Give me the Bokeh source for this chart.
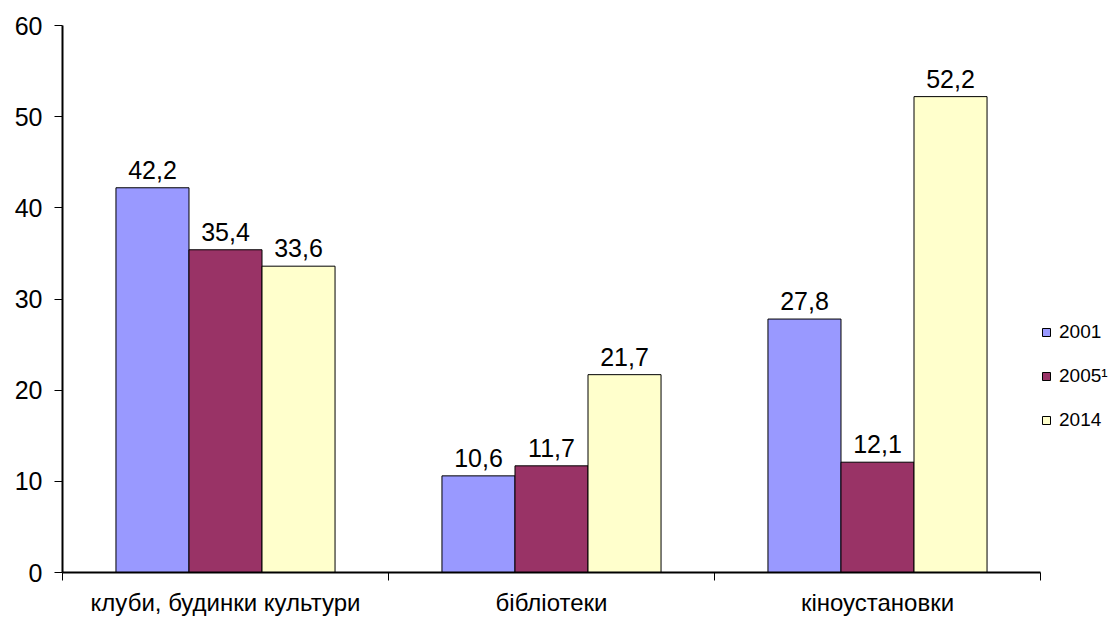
from bokeh.plotting import figure
from bokeh.models import Range1d, FixedTicker, Legend, LegendItem, ColumnDataSource
from bokeh.embed import file_html
from bokeh.resources import INLINE

categories = ["клуби, будинки культури", "бібліотеки", "кіноустановки"]
series_names = ["2001", "2005¹", "2014"]
v2001 = [42.2, 10.6, 27.8]
v2005 = [35.4, 11.7, 12.1]
v2014 = [33.6, 21.7, 52.2]
colors = ["#9999FF", "#993366", "#FFFFCC"]

FONT = "Liberation Sans"

W, H = 1116, 618
LEFT, TOP, BOTTOM = 62, 25, 45
axis_px = 978                      # width of the category area
right_px = W - LEFT - axis_px      # extra room for the legend inside the frame
x_end = 3 + right_px / (axis_px / 3)

p = figure(width=W, height=H, output_backend="svg", toolbar_location=None,
           x_range=Range1d(0, x_end), y_range=Range1d(0, 60),
           min_border_left=LEFT, min_border_right=0, min_border_top=TOP, min_border_bottom=BOTTOM)
p.outline_line_color = None
p.xgrid.visible = False
p.ygrid.visible = False

bw = 0.224
offsets = [-bw, 0, bw]
items = []
for vals, name, col, off in zip([v2001, v2005, v2014], series_names, colors, offsets):
    xs = [i + 0.5 + off for i in range(len(categories))]
    src = ColumnDataSource(dict(x=xs, top=vals, lbl=[f"{v:.1f}".replace(".", ",") for v in vals]))
    r = p.vbar(x="x", top="top", width=bw, source=src, fill_color=col,
               line_color="black", line_width=1)
    p.text(x="x", y="top", text="lbl", source=src, text_align="center",
           text_baseline="bottom", y_offset=-9, text_font_size="25px",
           text_font={"value": FONT}, text_color="black")
    items.append(LegendItem(label=name, renderers=[r]))

legend = Legend(items=items, location=(axis_px + 1, 141), orientation="vertical",
                border_line_alpha=0, background_fill_alpha=0,
                label_text_font=FONT, label_text_font_size="19px", label_text_color="black",
                glyph_width=10, glyph_height=10, label_standoff=8,
                spacing=22, label_height=18, padding=0, margin=0)
p.add_layout(legend, "center")

p.xaxis.bounds = (0, 3)
p.xaxis.ticker = FixedTicker(ticks=[0.5, 1.5, 2.5], minor_ticks=[0, 1, 2, 3])
p.xaxis.major_label_overrides = {0.5: categories[0], 1.5: categories[1], 2.5: categories[2]}
p.xaxis.major_tick_out = 0
p.xaxis.major_tick_in = 0
p.xaxis.minor_tick_out = 8
p.xaxis.minor_tick_in = 0
p.xaxis.minor_tick_line_color = "black"
p.xaxis.axis_line_color = "black"
p.xaxis.axis_line_width = 2
p.xaxis.major_label_standoff = 8
p.xaxis.major_label_text_font = FONT
p.xaxis.major_label_text_font_size = "24px"
p.xaxis.major_label_text_color = "black"

p.yaxis.ticker = FixedTicker(ticks=[0, 10, 20, 30, 40, 50, 60], minor_ticks=[])
p.yaxis.major_tick_out = 8
p.yaxis.major_tick_in = 0
p.yaxis.major_tick_line_color = "black"
p.yaxis.axis_line_color = "black"
p.yaxis.axis_line_width = 2
p.yaxis.major_label_standoff = 12
p.yaxis.major_label_text_font = FONT
p.yaxis.major_label_text_font_size = "25px"
p.yaxis.major_label_text_color = "black"

open("out.html", "w").write(file_html(p, INLINE))
